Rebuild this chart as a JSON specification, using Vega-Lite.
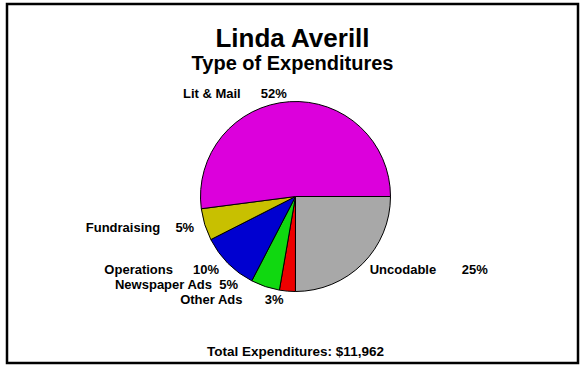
{
  "$schema": "https://vega.github.io/schema/vega-lite/v6.json",
  "width": 581,
  "height": 366,
  "autosize": {"type": "fit", "contains": "padding"},
  "padding": {"left": 7, "top": 4, "right": 3, "bottom": 3},
  "background": "white",
  "view": {"stroke": "black", "strokeWidth": 2.5},
  "config": {"font": "Liberation Sans", "text": {"font": "Liberation Sans"}},
  "title": {
    "text": "Linda Averill",
    "subtitle": "Type of Expenditures",
    "anchor": "middle",
    "frame": "group",
    "offset": -70,
    "font": "Liberation Sans",
    "fontSize": 26,
    "fontWeight": "bold",
    "color": "black",
    "subtitleFont": "Liberation Sans",
    "subtitleFontSize": 20,
    "subtitleFontWeight": "bold",
    "subtitleColor": "black",
    "subtitlePadding": 2
  },
  "data": {
    "values": [
      {"cat": "Uncodable", "pct": "25%", "amt": 2992, "ord": 1},
      {"cat": "Other Ads", "pct": "3%", "amt": 323, "ord": 2},
      {"cat": "Newspaper Ads", "pct": "5%", "amt": 586, "ord": 3},
      {"cat": "Operations", "pct": "10%", "amt": 1184, "ord": 4},
      {"cat": "Fundraising", "pct": "5%", "amt": 650, "ord": 5},
      {"cat": "Lit & Mail", "pct": "52%", "amt": 6227, "ord": 6}
    ]
  },
  "layer": [
    {
      "mark": {
        "type": "arc",
        "stroke": "black",
        "strokeWidth": 1,
        "outerRadius": 95,
        "x": {"expr": "width/2+3"},
        "y": {"expr": "height/2+13"}
      },
      "encoding": {
        "theta": {"field": "amt", "type": "quantitative", "stack": true, "scale": {"range": [1.5708, 7.85398]}},
        "order": {"field": "ord", "type": "quantitative"},
        "color": {
          "field": "cat",
          "type": "nominal",
          "legend": null,
          "scale": {
            "domain": ["Uncodable", "Other Ads", "Newspaper Ads", "Operations", "Fundraising", "Lit & Mail"],
            "range": ["#a8a8a8", "#ee0000", "#10d810", "#0000d0", "#c8c000", "#dc00dc"]
          }
        }
      }
    },
    {
      "mark": {
        "type": "text",
        "radius": 105,
        "fontSize": 13,
        "fontWeight": "bold",
        "baseline": "middle",
        "x": {"expr": "width/2+3"},
        "y": {"expr": "height/2+13"},
        "align": {"expr": "datum.cat === 'Uncodable' ? 'left' : 'right'"},
        "dx": {"expr": "datum.cat === 'Lit & Mail' ? -48 : datum.cat === 'Fundraising' ? -35 : datum.cat === 'Operations' ? -48 : datum.cat === 'Newspaper Ads' ? -50 : datum.cat === 'Other Ads' ? -44 : 0"},
        "dy": {"expr": "datum.cat === 'Lit & Mail' ? 2 : datum.cat === 'Newspaper Ads' ? -11 : datum.cat === 'Other Ads' ? -1 : datum.cat === 'Uncodable' ? -1 : 0"}
      },
      "encoding": {
        "theta": {"field": "amt", "type": "quantitative", "stack": true},
        "order": {"field": "ord", "type": "quantitative"},
        "text": {"field": "cat"},
        "color": {"value": "black"}
      }
    },
    {
      "mark": {
        "type": "text",
        "radius": 105,
        "fontSize": 13,
        "fontWeight": "bold",
        "baseline": "middle",
        "x": {"expr": "width/2+3"},
        "y": {"expr": "height/2+13"},
        "align": {"expr": "datum.cat === 'Uncodable' ? 'left' : 'right'"},
        "dx": {"expr": "datum.cat === 'Lit & Mail' ? -2 : datum.cat === 'Fundraising' ? -1 : datum.cat === 'Operations' ? -2 : datum.cat === 'Newspaper Ads' ? -24 : datum.cat === 'Other Ads' ? -3 : 92"},
        "dy": {"expr": "datum.cat === 'Lit & Mail' ? 2 : datum.cat === 'Newspaper Ads' ? -11 : datum.cat === 'Other Ads' ? -1 : datum.cat === 'Uncodable' ? -1 : 0"}
      },
      "encoding": {
        "theta": {"field": "amt", "type": "quantitative", "stack": true},
        "order": {"field": "ord", "type": "quantitative"},
        "text": {"field": "pct"},
        "color": {"value": "black"}
      }
    },
    {
      "data": {"values": [{"t": "Total Expenditures: $11,962"}]},
      "mark": {
        "type": "text",
        "fontSize": 13.5,
        "fontWeight": "bold",
        "baseline": "middle",
        "align": "center",
        "x": {"expr": "width/2+3"},
        "y": {"expr": "height-11"}
      },
      "encoding": {"text": {"field": "t"}, "color": {"value": "black"}}
    }
  ]
}
